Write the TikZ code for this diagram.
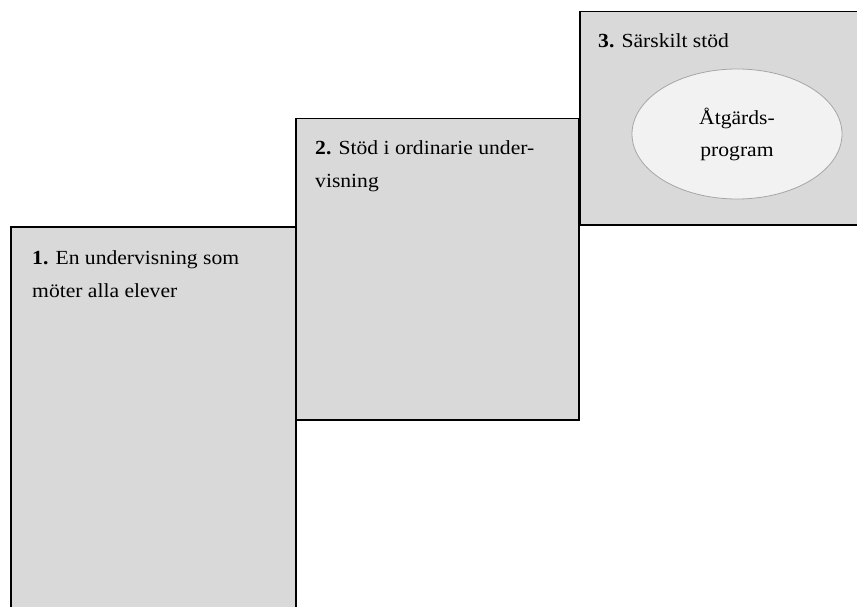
\documentclass[tikz,border=0pt]{standalone}
\usepackage{fontspec}
\setmainfont{Liberation Serif}[FakeStretch=1.08]
\usetikzlibrary{shapes.geometric}
\definecolor{boxgray}{HTML}{D9D9D9}
\definecolor{ellfill}{HTML}{F2F2F2}
\definecolor{ellline}{HTML}{A6A6A6}
\begin{document}
\begin{tikzpicture}[x=1pt,y=-1pt,
  stepbox/.style={draw=black, line width=1.5pt, fill=boxgray, rectangle, inner sep=0pt, anchor=north west},
  steplabel/.style={font=\fontsize{20}{33}\selectfont, align=left, anchor=base west, inner sep=0pt},
  innerell/.style={ellipse, draw=ellline, fill=ellfill, line width=0.8pt, inner sep=0pt, align=center, font=\fontsize{20}{32}\selectfont}]
\useasboundingbox (0,0) rectangle (857,607);
\clip (0,0) rectangle (857,607);
\node[stepbox, minimum width=285pt, minimum height=420pt] (b1) at (10,226) {};
\node[stepbox, minimum width=283pt, minimum height=301pt] (b2) at (295,118) {};
\node[stepbox, minimum width=300pt, minimum height=213pt] (b3) at (579,11) {};
% base anchor of a two-line node lies on its last line
\node[steplabel] (t1) at (32,297) {\textbf{1.} En undervisning som\\möter alla elever};
\node[steplabel] (t2) at (315,188) {\textbf{2.} Stöd i ordinarie under-\\visning};
\node[steplabel] (t3) at (598,48) {\textbf{3.} Särskilt stöd};
\node[innerell, minimum width=210pt, minimum height=130pt] (e) at (737,134) {Åtgärds-\\program};
\end{tikzpicture}
\end{document}
